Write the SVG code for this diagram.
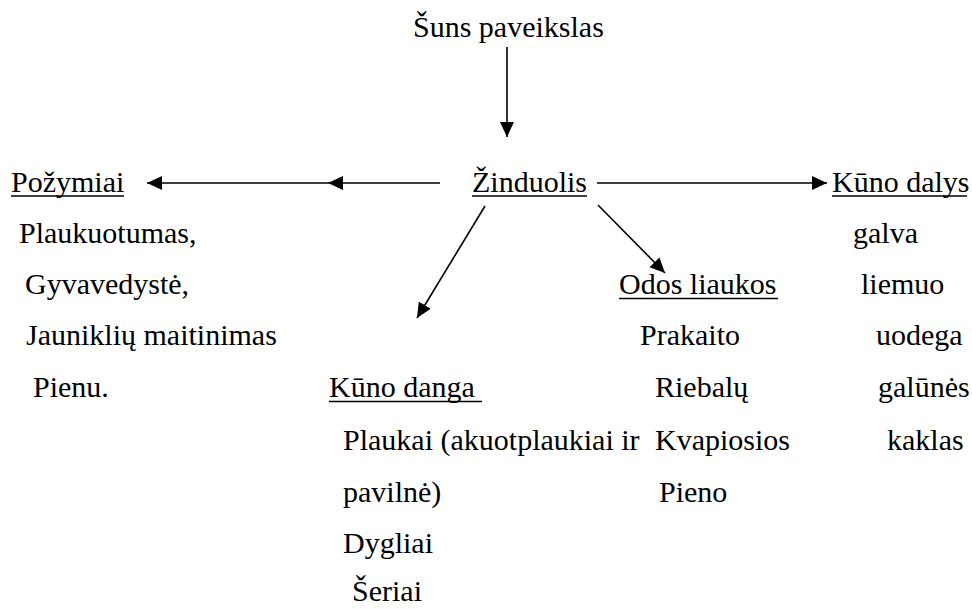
<svg xmlns="http://www.w3.org/2000/svg" width="972" height="609" viewBox="0 0 972 609">
  <style>
    text { font-family: 'Liberation Serif', 'DejaVu Serif', serif; font-size: 30px; fill: #000; }
    .ul { stroke: #000; stroke-width: 1.6; }
    .conn { stroke: #000; stroke-width: 1.6; fill: none; }
  </style>
  <defs>
    <marker id="arrow" markerUnits="userSpaceOnUse" markerWidth="16" markerHeight="16" refX="15" refY="7" orient="auto">
      <path d="M0,0 L15,7 L0,14 z" fill="#000"/>
    </marker>
  </defs>
  <rect width="972" height="609" fill="#fff"/>

  <g id="connectors">
    <line class="conn" x1="507" y1="47" x2="507" y2="137" marker-end="url(#arrow)"/>
    <polyline class="conn" points="440,183 328,183 147,183" marker-mid="url(#arrow)" marker-end="url(#arrow)"/>
    <line class="conn" x1="597" y1="183" x2="827" y2="183" marker-end="url(#arrow)"/>
    <line class="conn" x1="485" y1="206" x2="417" y2="318" marker-end="url(#arrow)"/>
    <line class="conn" x1="598" y1="205" x2="665" y2="273" marker-end="url(#arrow)"/>
  </g>

  <g id="n-suns">
    <text x="413" y="37">Šuns paveikslas</text>
  </g>

  <g id="n-zinduolis">
    <text x="472" y="192">Žinduolis</text>
    <line class="ul" x1="472" y1="196" x2="587" y2="196"/>
  </g>

  <g id="n-pozymiai">
    <text x="11" y="192">Požymiai</text>
    <line class="ul" x1="11" y1="196" x2="124" y2="196"/>
    <text x="19" y="243">Plaukuotumas,</text>
    <text x="25" y="294">Gyvavedystė,</text>
    <text x="26" y="345">Jauniklių maitinimas</text>
    <text x="33" y="397">Pienu.</text>
  </g>

  <g id="n-kuno-dalys">
    <text x="832" y="192">Kūno dalys</text>
    <line class="ul" x1="832" y1="196" x2="967" y2="196"/>
    <text x="853" y="243">galva</text>
    <text x="861" y="294">liemuo</text>
    <text x="876" y="345">uodega</text>
    <text x="878" y="397">galūnės</text>
    <text x="887" y="450">kaklas</text>
  </g>

  <g id="n-odos-liaukos">
    <text x="619" y="294">Odos liaukos</text>
    <line class="ul" x1="619" y1="298.5" x2="778" y2="298.5"/>
    <text x="640" y="345">Prakaito</text>
    <text x="655" y="397">Riebalų</text>
    <text x="655" y="450">Kvapiosios</text>
    <text x="659" y="502">Pieno</text>
  </g>

  <g id="n-kuno-danga">
    <text x="329" y="397">Kūno danga</text>
    <line class="ul" x1="329" y1="401.5" x2="482" y2="401.5"/>
    <text x="343" y="450">Plaukai (akuotplaukiai ir</text>
    <text x="343" y="502">pavilnė)</text>
    <text x="343" y="553">Dygliai</text>
    <text x="352" y="601">Šeriai</text>
  </g>
</svg>
